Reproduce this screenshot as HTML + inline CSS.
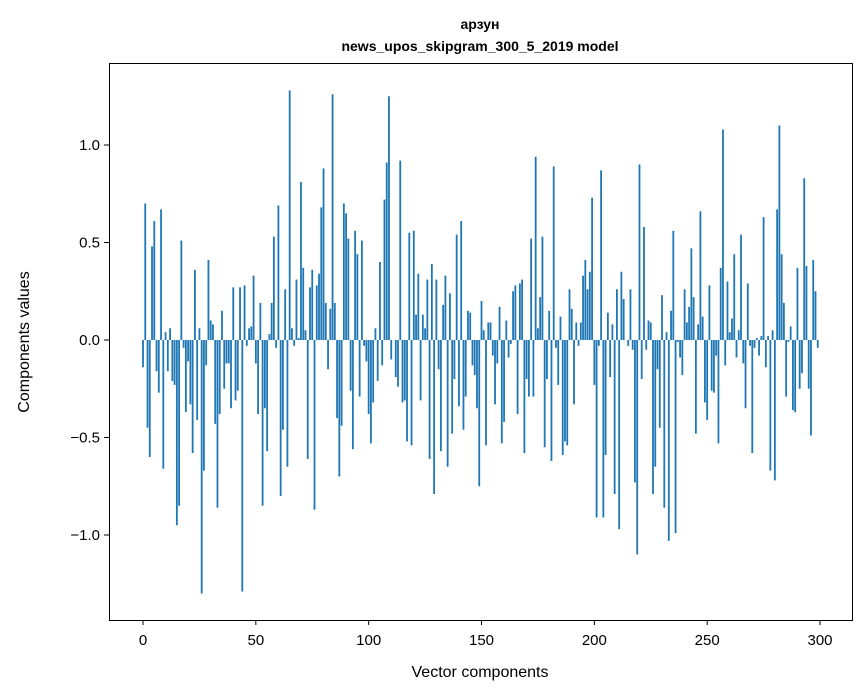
<!DOCTYPE html>
<html><head><meta charset="utf-8"><style>
html,body{margin:0;padding:0;background:#fff}
svg{display:block;font-family:"Liberation Sans","DejaVu Sans",sans-serif}
</style></head><body>
<svg id="chart" width="867" height="696" viewBox="0 0 867 696" xmlns="http://www.w3.org/2000/svg">
<rect x="0" y="0" width="867" height="696" fill="#fff"/>
<text x="480" y="29" text-anchor="middle" font-size="14" font-weight="bold">арзун</text>
<text x="480" y="51" text-anchor="middle" font-size="14" font-weight="bold">news_upos_skipgram_300_5_2019 model</text>
<g id="bars"></g>
<rect x="109.5" y="63.5" width="743" height="557" fill="none" stroke="#000" stroke-width="1"/>
<g id="xticks"></g>
<g id="yticks"></g>
<text x="480" y="677" text-anchor="middle" font-size="16">Vector components</text>
<text x="0" y="0" transform="translate(29,342) rotate(-90)" text-anchor="middle" font-size="16">Components values</text>
</svg>
<script>
const values = [
-0.14,0.70,-0.45,-0.60,0.48,0.61,-0.16,-0.27,0.67,-0.66,
0.04,-0.16,0.06,-0.21,-0.23,-0.95,-0.85,0.51,-0.04,-0.37,
-0.11,-0.33,-0.58,0.36,-0.41,0.06,-1.30,-0.67,-0.13,0.41,
0.10,0.08,-0.43,-0.86,-0.38,0.15,-0.25,-0.12,-0.12,-0.35,
0.27,-0.31,-0.26,0.27,-1.29,0.28,-0.03,0.06,0.07,0.33,
-0.12,-0.38,0.19,-0.85,-0.35,-0.57,0.03,0.19,0.53,-0.04,
0.69,-0.80,-0.46,0.26,-0.65,1.28,0.06,-0.03,0.31,0.01,
0.81,0.37,0.05,-0.61,0.27,0.36,-0.87,0.28,0.34,0.68,
0.88,0.19,-0.15,0.16,1.26,0.19,-0.40,-0.70,-0.44,0.70,
0.65,0.52,-0.26,-0.56,0.56,0.44,-0.29,0.51,-0.03,-0.11,
-0.38,-0.53,-0.32,0.06,-0.21,0.40,-0.13,0.72,0.91,1.25,
-0.10,0.0,-0.19,-0.24,0.92,-0.32,-0.31,-0.52,0.55,-0.54,
0.56,0.13,0.34,-0.31,0.13,0.06,0.31,-0.61,0.39,-0.79,
0.31,-0.15,-0.57,0.18,0.33,-0.65,0.24,-0.48,-0.20,0.54,
-0.34,0.61,-0.46,-0.29,0.15,0.14,-0.13,-0.18,-0.35,-0.75,
0.20,0.05,-0.54,0.09,0.09,-0.08,-0.33,-0.12,0.17,-0.53,
-0.42,0.10,-0.09,-0.02,0.25,0.28,-0.38,0.29,0.31,-0.58,
-0.20,-0.29,0.52,-0.29,0.94,0.06,0.22,0.53,-0.55,-0.20,
0.15,-0.62,0.89,-0.04,-0.23,0.12,-0.59,-0.52,-0.54,0.26,
0.16,-0.33,0.09,-0.03,0.09,0.33,0.41,0.26,0.35,0.73,
-0.23,-0.91,-0.03,0.87,-0.91,-0.59,0.14,-0.19,0.08,-0.79,
0.26,-0.97,0.35,0.21,0.0,-0.03,0.26,-0.05,-0.73,-1.10,
0.90,-0.20,0.58,-0.05,0.10,0.09,-0.79,-0.65,-0.15,-0.45,
0.23,-0.86,0.04,-1.03,0.15,0.56,-0.99,-0.01,-0.09,-0.18,
0.26,0.09,0.17,0.47,0.22,-0.48,0.08,0.66,0.12,-0.32,
-0.41,0.28,-0.26,-0.27,-0.08,-0.53,0.37,1.08,-0.13,0.30,
0.04,0.11,0.44,-0.09,0.05,0.54,-0.12,-0.35,0.29,-0.03,
-0.58,-0.04,0.01,-0.08,0.02,0.63,-0.14,0.02,-0.67,0.05,
-0.72,0.67,1.10,0.44,0.19,-0.29,-0.01,0.07,-0.36,-0.37,
0.37,-0.25,-0.17,0.83,0.38,-0.25,-0.49,0.41,0.25,-0.04
];
const xTicks = [0,50,100,150,200,250,300];
const yTicks = [-1.0,-0.5,0.0,0.5,1.0];
const yTickLabels = ["\u22121.0","\u22120.5","0.0","0.5","1.0"];

const NS = "http://www.w3.org/2000/svg";
function xScale(v){ return 143 + v * (677/300); }
function yScale(v){ return 340 - v * 195; }
const bw = 0.8 * (677/300);
const gb = document.getElementById('bars');
values.forEach(function(v,i){
  const r = document.createElementNS(NS,'rect');
  const y0 = yScale(0), y1 = yScale(v);
  r.setAttribute('x', xScale(i) - bw/2);
  r.setAttribute('y', Math.min(y0,y1));
  r.setAttribute('width', bw);
  r.setAttribute('height', Math.max(Math.abs(y1-y0),0.01));
  r.setAttribute('fill','#1f77b4');
  
  
  gb.appendChild(r);
});
const gx = document.getElementById('xticks');
xTicks.forEach(function(t){
  const x = xScale(t);
  const l = document.createElementNS(NS,'line');
  l.setAttribute('x1',x); l.setAttribute('x2',x);
  l.setAttribute('y1',620); l.setAttribute('y2',625);
  l.setAttribute('stroke','#000');
  
  
  gx.appendChild(l);
  const tx = document.createElementNS(NS,'text');
  tx.setAttribute('x',x); tx.setAttribute('y',645);
  tx.setAttribute('text-anchor','middle'); tx.setAttribute('font-size','15');
  tx.textContent = t;
  
  
  gx.appendChild(tx);
});
const gy = document.getElementById('yticks');
yTicks.forEach(function(t,i){
  const y = yScale(t);
  const l = document.createElementNS(NS,'line');
  l.setAttribute('x1',104); l.setAttribute('x2',109);
  l.setAttribute('y1',y); l.setAttribute('y2',y);
  l.setAttribute('stroke','#000');
  
  
  gy.appendChild(l);
  const tx = document.createElementNS(NS,'text');
  tx.setAttribute('x',100); tx.setAttribute('y',y+5);
  tx.setAttribute('text-anchor','end'); tx.setAttribute('font-size','15');
  tx.textContent = yTickLabels[i];
  
  
  gy.appendChild(tx);
});
</script>
</body></html>
